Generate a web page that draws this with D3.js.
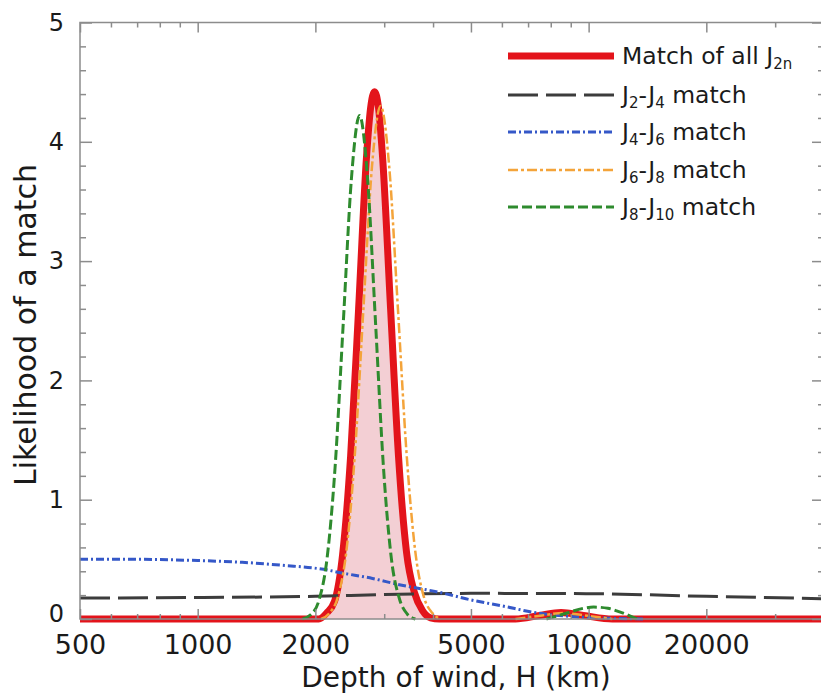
<!DOCTYPE html>
<html><head><meta charset="utf-8">
<script src="https://cdn.jsdelivr.net/npm/d3@7"></script>
<style>body{margin:0;background:#fff} svg{display:block} text{font-family:"DejaVu Sans",sans-serif;fill:#1a1a1a}</style>
</head><body><svg id="c" width="821" height="697"></svg>
<script>
// ---- data (depth H in km, likelihood) ----
const xTickValues = [500, 1000, 2000, 5000, 10000, 20000];
const xMinorValues = [600, 700, 800, 900, 3000, 4000, 6000, 7000, 8000, 9000, 30000, 40000];
const yTickValues = [0, 1, 2, 3, 4, 5];
const yMinorValues = [0.2,0.4,0.6,0.8,1.2,1.4,1.6,1.8,2.2,2.4,2.6,2.8,3.2,3.4,3.6,3.8,4.2,4.4,4.6,4.8];

const allMatch = [[500,0],[1800,0],[2040,0],[2137,0.05],[2240,0.15],[2348,0.54],[2461,1.36],[2580,2.6],[2704,3.88],[2768,4.28],[2834,4.42],[2902,4.28],[2970,3.88],[3115,2.6],[3264,1.36],[3421,0.56],[3586,0.22],[3759,0.07],[3940,0.01],[4150,0],[6500,0],[7500,0.03],[8500,0.055],[9700,0.03],[11500,0],[40000,0]];
const allMatchFill = [[2040,0],[2137,0.05],[2240,0.15],[2348,0.54],[2461,1.36],[2580,2.6],[2704,3.88],[2768,4.28],[2834,4.42],[2902,4.28],[2970,3.88],[3115,2.6],[3264,1.36],[3421,0.56],[3586,0.22],[3759,0.07],[3940,0.01],[4150,0]];
const j2j4 = [[500,0.175],[1000,0.18],[2000,0.19],[3000,0.205],[5000,0.215],[10000,0.212],[20000,0.19],[40000,0.17]];
const j4j6 = [[500,0.50],[700,0.50],[1000,0.49],[1300,0.475],[1650,0.45],[2150,0.41],[2300,0.39],[2800,0.34],[3250,0.29],[4200,0.22],[5000,0.16],[6000,0.11],[7400,0.05],[9700,0.015],[14000,0]];
const j6j8 = [[2068,0],[2174,0.05],[2286,0.19],[2403,0.58],[2526,1.40],[2655,2.61],[2791,3.79],[2937,4.3],[3090,3.79],[3251,2.61],[3420,1.40],[3598,0.58],[3786,0.19],[3983,0.05],[4190,0],null,[6500,0],[7600,0.03],[8600,0.05],[9800,0.03],[11500,0]];
const j8j10 = [[1854,0],[1945,0.035],[2040,0.15],[2141,0.50],[2246,1.27],[2357,2.48],[2473,3.69],[2595,4.22],[2720,3.69],[2851,2.48],[2987,1.27],[3131,0.5],[3281,0.17],[3439,0.04],[3604,0],null,[7800,0],[8800,0.05],[9700,0.09],[10300,0.1],[11200,0.09],[12000,0.06],[13300,0]];

const legendLabels = [
  ["Match of all J", "2n", "", "", ""],
  ["J", "2", "-J", "4", " match"],
  ["J", "4", "-J", "6", " match"],
  ["J", "6", "-J", "8", " match"],
  ["J", "8", "-J", "10", " match"]
];

// ---- layout ----
const svg = d3.select("#c");
const L = 80, R = 824, T = 22.5, B = 619;
const x = d3.scaleLog().domain([500, 40000]).range([L, R]);
const y = d3.scaleLinear().domain([0, 5]).range([B, T]);

const styles = [
  {color:"#e3141b", w:7, dash:null},
  {color:"#3c3c3c", w:3, dash:"30,8"},
  {color:"#3558c8", w:3, dash:"8,3,2,3"},
  {color:"#f4a43a", w:2.5, dash:"10,3,3,3"},
  {color:"#2e8b2e", w:3, dash:"10,4"}
];

svg.append("defs").append("clipPath").attr("id","clip")
  .append("rect").attr("x",L).attr("y",T-5).attr("width",R-L).attr("height",B-T+10);

const plot = svg.append("g").attr("clip-path","url(#clip)");
const line = d3.line().defined(d => d !== null).x(d => x(d[0])).y(d => y(d[1])).curve(d3.curveMonotoneX);
const area = d3.area().x(d => x(d[0])).y0(y(0)).y1(d => y(d[1])).curve(d3.curveMonotoneX);

plot.append("path").datum(allMatchFill).attr("d", area).attr("fill","#f3cfd4");

const series = [allMatch, j2j4, j4j6, j6j8, j8j10];
series.forEach((s,i) => {
  const st = styles[i];
  plot.append("path").datum(s).attr("d", line)
    .attr("fill","none").attr("stroke",st.color).attr("stroke-width",st.w)
    .attr("stroke-dasharray",st.dash).attr("stroke-linejoin","round").attr("stroke-linecap", i===0?"round":"butt");
});

// ---- frame & ticks ----
const gray = "#8c8c8c";
svg.append("rect").attr("x",L).attr("y",T).attr("width",R-L).attr("height",B-T)
  .attr("fill","none").attr("stroke",gray).attr("stroke-width",1.5);

function styleAxis(g){ g.select(".domain").remove(); g.selectAll("line").attr("stroke",gray).attr("stroke-width",1.5); }

svg.append("g").attr("transform",`translate(0,${B})`)
  .call(d3.axisBottom(x).tickValues(xTickValues).tickFormat(d3.format("d")).tickSize(-10).tickPadding(16))
  .call(styleAxis)
  .call(g => g.selectAll("text").attr("font-size",27).attr("fill","#1a1a1a").attr("font-family","DejaVu Sans"));
svg.append("g").attr("transform",`translate(0,${B})`)
  .call(d3.axisBottom(x).tickValues(xMinorValues).tickFormat("").tickSize(-5)).call(styleAxis);
svg.append("g").attr("transform",`translate(0,${T})`)
  .call(d3.axisTop(x).tickValues(xTickValues).tickFormat("").tickSize(-10)).call(styleAxis);
svg.append("g").attr("transform",`translate(0,${T})`)
  .call(d3.axisTop(x).tickValues(xMinorValues).tickFormat("").tickSize(-5)).call(styleAxis);

svg.append("g").attr("transform",`translate(${L},0)`)
  .call(d3.axisLeft(y).tickValues(yTickValues).tickFormat(d3.format("d")).tickSize(-12).tickPadding(16))
  .call(styleAxis)
  .call(g => g.selectAll("text").attr("font-size",24).attr("fill","#1a1a1a").attr("font-family","DejaVu Sans"))
  .call(g => g.selectAll(".tick").filter(d => d === 0).select("text").attr("dy","0.1em"));
svg.append("g").attr("transform",`translate(${L},0)`)
  .call(d3.axisLeft(y).tickValues(yMinorValues).tickFormat("").tickSize(-6)).call(styleAxis);
svg.append("g").attr("transform",`translate(${R},0)`)
  .call(d3.axisRight(y).tickValues(yTickValues).tickFormat("").tickSize(-12)).call(styleAxis);
svg.append("g").attr("transform",`translate(${R},0)`)
  .call(d3.axisRight(y).tickValues(yMinorValues).tickFormat("").tickSize(-6)).call(styleAxis);

// ---- axis titles ----
svg.append("text").attr("x",456).attr("y",687).attr("text-anchor","middle")
  .attr("font-size",28).text("Depth of wind, H (km)");
svg.append("text").attr("transform","translate(36,325) rotate(-90)").attr("text-anchor","middle")
  .attr("font-size",30).text("Likelihood of a match");

// ---- legend ----
const legY = [56, 95, 132, 170, 207];
const leg = svg.append("g");
legendLabels.forEach((lab,i) => {
  const st = styles[i];
  leg.append("line").attr("x1",508).attr("x2",614).attr("y1",legY[i]).attr("y2",legY[i])
    .attr("stroke",st.color).attr("stroke-width",st.w).attr("stroke-dasharray",st.dash);
  const t = leg.append("text").attr("x",622).attr("y",legY[i]+8).attr("font-size",23.5);
  t.append("tspan").text(lab[0]);
  t.append("tspan").attr("dy",5).attr("font-size",15).text(lab[1]);
  if (lab[2]) {
    t.append("tspan").attr("dy",-5).text(lab[2]);
    t.append("tspan").attr("dy",5).attr("font-size",15).text(lab[3]);
    t.append("tspan").attr("dy",-5).text(lab[4]);
  }
});
</script></body></html>
